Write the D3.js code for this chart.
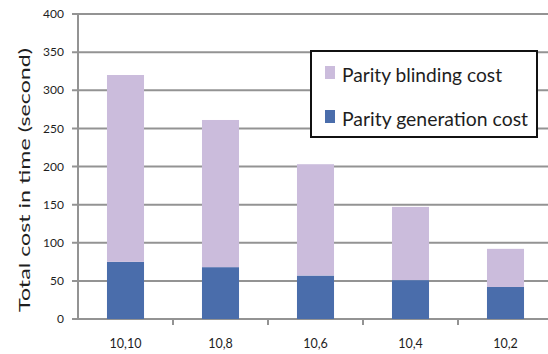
<!DOCTYPE html>
<html>
<head>
<meta charset="utf-8">
<script src="https://cdn.jsdelivr.net/npm/d3@7"></script>
<style>
  html, body { margin: 0; padding: 0; background: #fff; }
  svg { display: block; }
  text { font-family: Lato, "Open Sans", sans-serif; fill: #1e1e1e; }
</style>
</head>
<body>
<svg id="chart" width="548" height="354"></svg>
<script>
// (k, m) configurations on the x axis
const categories = ["10,10", "10,8", "10,6", "10,4", "10,2"];
// Cost components in seconds, stacked bottom to top
const generationCost = [75, 68, 57, 51, 42];
const blindingCost = [245, 193, 146, 96, 50];
const seriesNames = ["Parity generation cost", "Parity blinding cost"];
const seriesColors = ["#4a6dab", "#cbbcdc"];
const yTicks = [0, 50, 100, 150, 200, 250, 300, 350, 400];

const svg = d3.select("#chart");
const plot = { left: 78, right: 553, top: 14, bottom: 319 };

const x = d3.scaleBand().domain(categories).range([plot.left, plot.right]).padding(0);
const y = d3.scaleLinear().domain([0, 400]).range([plot.bottom, plot.top]);
const barWidth = x.bandwidth() * 0.39;

const rows = categories.map((c, i) => ({
  cat: c,
  "Parity generation cost": generationCost[i],
  "Parity blinding cost": blindingCost[i]
}));
const stacked = d3.stack().keys(seriesNames)(rows);

const gridColor = "#939393";

// horizontal gridlines with short ticks left of the axis
svg.append("g").selectAll("line").data(yTicks).join("line")
  .attr("x1", plot.left - 6).attr("x2", 548)
  .attr("y1", d => y(d)).attr("y2", d => y(d))
  .attr("stroke", gridColor).attr("stroke-width", 2);

// vertical axis line
svg.append("line")
  .attr("x1", plot.left).attr("x2", plot.left)
  .attr("y1", y(400)).attr("y2", y(0))
  .attr("stroke", gridColor).attr("stroke-width", 2);

// category separators below the baseline
const bounds = categories.slice(1).map(c => x(c));
svg.append("g").selectAll("line").data(bounds).join("line")
  .attr("x1", d => d).attr("x2", d => d)
  .attr("y1", y(0)).attr("y2", y(0) + 6)
  .attr("stroke", gridColor).attr("stroke-width", 2);

// stacked bars
svg.append("g").selectAll("g").data(stacked).join("g")
  .attr("fill", (d, i) => seriesColors[i])
  .selectAll("rect").data(d => d).join("rect")
  .attr("x", d => x(d.data.cat) + (x.bandwidth() - barWidth) / 2)
  .attr("width", barWidth)
  .attr("y", d => y(d[1]))
  .attr("height", d => y(d[0]) - y(d[1]));

// y tick labels
svg.append("g").selectAll("text").data(yTicks).join("text")
  .attr("x", 64).attr("y", d => y(d))
  .attr("dy", "0.35em")
  .attr("text-anchor", "end")
  .attr("font-size", 12)
  .text(d => d);

// x tick labels
svg.append("g").selectAll("text").data(categories).join("text")
  .attr("x", d => x(d) + x.bandwidth() / 2)
  .attr("y", 348)
  .attr("text-anchor", "middle")
  .attr("font-size", 12.5)
  .text(d => d);

// y axis title
svg.append("text")
  .attr("transform", "translate(30,180) rotate(-90)")
  .attr("text-anchor", "middle")
  .attr("font-size", 16)
  .attr("textLength", 264)
  .attr("lengthAdjust", "spacingAndGlyphs")
  .text("Total cost in time (second)");

// legend
const legend = svg.append("g");
legend.append("rect")
  .attr("x", 311).attr("y", 51).attr("width", 226).attr("height", 86)
  .attr("fill", "#fff").attr("stroke", "#111").attr("stroke-width", 2);
const legendItems = [
  { name: "Parity blinding cost", color: seriesColors[1], top: 66, width: 160 },
  { name: "Parity generation cost", color: seriesColors[0], top: 110, width: 186 }
];
legendItems.forEach(it => {
  legend.append("rect")
    .attr("x", 325).attr("y", it.top).attr("width", 10).attr("height", 13)
    .attr("fill", it.color);
  legend.append("text")
    .attr("x", 342).attr("y", it.top + 16)
    .attr("font-size", 20)
    .attr("textLength", it.width)
    .attr("lengthAdjust", "spacingAndGlyphs")
    .text(it.name);
});
</script>
</body>
</html>
